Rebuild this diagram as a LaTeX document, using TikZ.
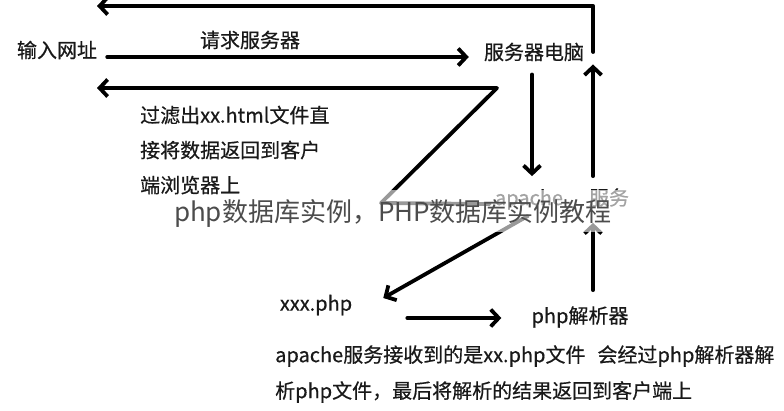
\documentclass[tikz,border=0pt]{standalone}
\usepackage{fontspec}
\setmainfont{Noto Sans CJK SC}[FakeBold=0.5]
\newfontfamily\wmfont{Noto Sans CJK SC}
\usetikzlibrary{arrows.meta,calc}
\begin{document}
\begin{tikzpicture}[x=1pt,y=-1pt,
  lbl/.style={font=\fontsize{20}{35}\selectfont, text=black!90, inner sep=0pt},
  conn/.style={line width=3.8pt, line cap=round, line join=round, -{Straight Barb[length=8pt,width=17pt]}},
  wmark/.style={font=\wmfont\fontsize{26}{30}\selectfont, text=black!70, inner sep=0pt},
  fadeband/.style={fill=white, opacity=0.6}]
\useasboundingbox (0,0) rectangle (784,410);
\fill[white] (0,0) rectangle (784,410);

% nodes
\node[lbl] (in) at (57,50) {输入网址};
\node[lbl] (req) at (250,40) {请求服务器};
\node[lbl] (server) at (534,52) {服务器电脑};
\node[lbl, anchor=west, align=left] (html) at (140,150) {过滤出xx.html文件直\\接将数据返回到客户\\端浏览器上};
\node[lbl] (apache) at (562,199) {apache\hspace{26pt}服务};
\node[lbl] (xphp) at (316,305) {xxx.php};
\node[lbl] (parser) at (580,317) {php解析器};
\node[lbl, anchor=west, align=left, font=\fontsize{20}{36}\selectfont] (note) at (275,374) {apache服务接收到的是xx.php文件\hspace{12pt}会经过php解析器解\\析php文件，最后将解析的结果返回到客户端上};

% free ends
\coordinate (topL) at (97,6);
\coordinate (zc) at (381,203);
\coordinate (zr) at (497,88);
\coordinate (zl) at (97,88);

% connectors
\draw[conn] ($(in.east)+(10,7)$) -- ($(server.west)+(-15,5)$);
\draw[conn] ($(server.east)+(9,0)$) |- (topL);
\draw[conn] ($(apache.west)+(-5,5)$) -- (zc) -- (zr) -- (zl);
\draw[conn] ($(server.south)+(-2,13)$) -- ($(server.south |- apache.north)+(-2,-12)$);
\draw[conn] ($(apache.north)+(31,-12)$) -- ($(server.south)+(59,3)$);
\draw[conn] ($(parser.north)+(13,-16)$) -- ($(apache.south)+(31,13)$);
\draw[conn] ($(apache.south)+(-34,6)$) -- ($(xphp.east)+(31,-7)$);
\draw[conn] ($(xphp.east)+(55,13)$) -- ($(parser.west)+(-30,1)$);

% watermark overlay
\fill[fadeband] (360,190) rectangle (640,232);
\node[wmark] (wm) at (393,213) {php数据库实例，PHP数据库实例教程};
\end{tikzpicture}
\end{document}
